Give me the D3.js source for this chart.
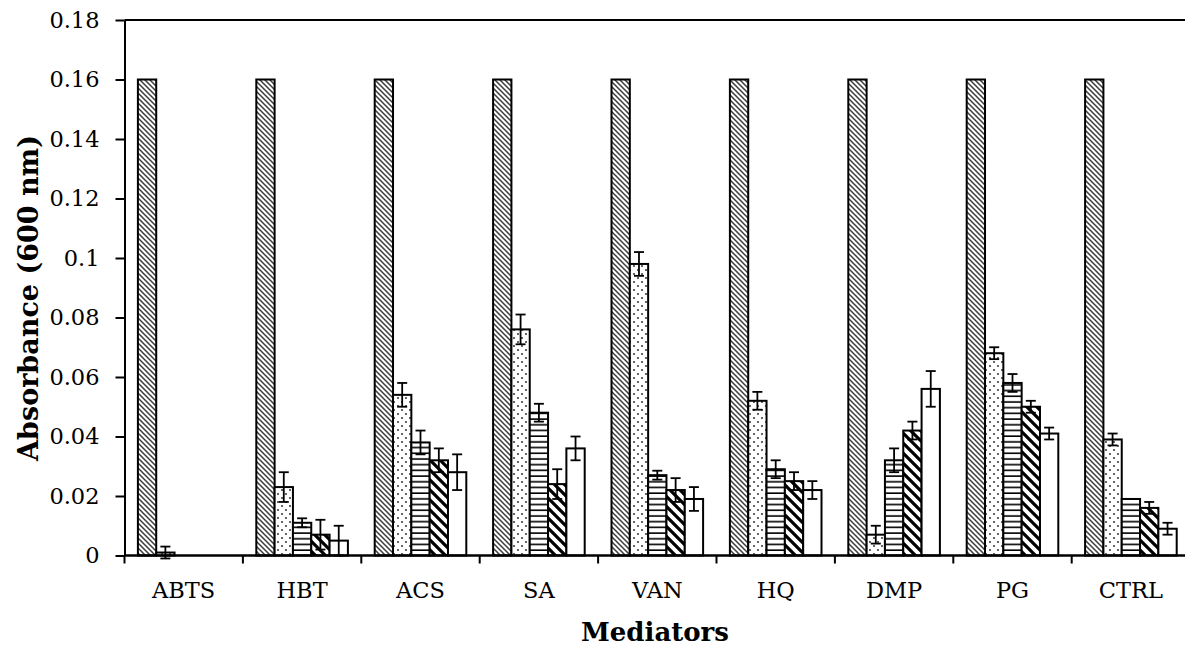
<!DOCTYPE html>
<html>
<head>
<meta charset="utf-8">
<script src="https://cdn.jsdelivr.net/npm/d3@7"></script>
<style>
  body { margin: 0; background: #fff; }
  svg { display: block; font-family: "DejaVu Serif", "Liberation Serif", serif; }
</style>
</head>
<body>
<div class="chart"></div>
<script>
// chart size and plot box
const w = 1185;
const h = 650;
const padL = 124.5;
const padT = 20;
const padB = 555.5;
const groupW = 118.4;

// categories and series
const mediators = ["ABTS", "HBT", "ACS", "SA", "VAN", "HQ", "DMP", "PG", "CTRL"];
const seriesIds = ["s1", "s2", "s3", "s4", "s5"];
const yTicks = [0, 0.02, 0.04, 0.06, 0.08, 0.1, 0.12, 0.14, 0.16, 0.18];

const s1 = [0.16, 0.16, 0.16, 0.16, 0.16, 0.16, 0.16, 0.16, 0.16];
const s2 = [0.001, 0.023, 0.054, 0.076, 0.098, 0.052, 0.007, 0.068, 0.039];
const s3 = [0, 0.011, 0.038, 0.048, 0.027, 0.029, 0.032, 0.058, 0.019];
const s4 = [0, 0.007, 0.032, 0.024, 0.022, 0.025, 0.042, 0.050, 0.016];
const s5 = [0, 0.005, 0.028, 0.036, 0.019, 0.022, 0.056, 0.041, 0.009];

const s1Err = [0, 0, 0, 0, 0, 0, 0, 0, 0];
const s2Err = [0.002, 0.005, 0.004, 0.005, 0.004, 0.003, 0.003, 0.002, 0.002];
const s3Err = [0, 0.0015, 0.004, 0.003, 0.0015, 0.003, 0.004, 0.003, 0];
const s4Err = [0, 0.005, 0.004, 0.005, 0.004, 0.003, 0.003, 0.002, 0.002];
const s5Err = [0, 0.005, 0.006, 0.004, 0.004, 0.003, 0.006, 0.002, 0.002];

const values = [s1, s2, s3, s4, s5];
const errors = [s1Err, s2Err, s3Err, s4Err, s5Err];

// flatten into rows for the bars
const rows = [];
mediators.forEach((m, i) => {
  seriesIds.forEach((s, j) => {
    rows.push({ m: m, s: s, v: values[j][i], e: errors[j][i] });
  });
});

const svg = d3.select(".chart").append("svg")
  .attr("width", w)
  .attr("height", h);

svg.append("rect").attr("width", w).attr("height", h).attr("fill", "#fff");

// fill patterns
const defs = svg.append("defs");

const p1 = defs.append("pattern").attr("id", "pat-s1")
  .attr("patternUnits", "userSpaceOnUse").attr("width", 5).attr("height", 5);
p1.append("rect").attr("width", 5).attr("height", 5).attr("fill", "#fff");
p1.append("path").attr("d", "M-1,-1L6,6M-1,4L1,6M4,-1L6,1")
  .attr("stroke", "#3c3c3c").attr("stroke-width", 1.5);

const p2 = defs.append("pattern").attr("id", "pat-s2")
  .attr("patternUnits", "userSpaceOnUse").attr("width", 8).attr("height", 8);
p2.append("rect").attr("width", 8).attr("height", 8).attr("fill", "#fff");
p2.append("circle").attr("cx", 2).attr("cy", 2).attr("r", 1).attr("fill", "#333");
p2.append("circle").attr("cx", 6).attr("cy", 6).attr("r", 1).attr("fill", "#333");

const p3 = defs.append("pattern").attr("id", "pat-s3")
  .attr("patternUnits", "userSpaceOnUse").attr("width", 6).attr("height", 5.7);
p3.append("rect").attr("width", 6).attr("height", 5.7).attr("fill", "#fff");
p3.append("path").attr("d", "M0,3L6,3").attr("stroke", "#000").attr("stroke-width", 1.6);

const p4 = defs.append("pattern").attr("id", "pat-s4")
  .attr("patternUnits", "userSpaceOnUse").attr("width", 10).attr("height", 10);
p4.append("rect").attr("width", 10).attr("height", 10).attr("fill", "#fff");
p4.append("path").attr("d", "M-2,-2L12,12M-2,8L2,12M8,-2L12,2")
  .attr("stroke", "#000").attr("stroke-width", 3.2);

const fills = { s1: "url(#pat-s1)", s2: "url(#pat-s2)", s3: "url(#pat-s3)", s4: "url(#pat-s4)", s5: "#fff" };

// scales
const x0 = d3.scaleBand()
  .domain(mediators)
  .range([padL, padL + groupW * mediators.length])
  .padding(0);

const x1 = d3.scaleBand()
  .domain(seriesIds)
  .range([13.4, groupW - 13.4])
  .padding(0);

const y = d3.scaleLinear()
  .domain([0, 0.18])
  .range([padB, padT]);

// top line at 0.18
svg.append("line")
  .attr("x1", padL).attr("x2", w)
  .attr("y1", y(0.18)).attr("y2", y(0.18))
  .attr("stroke", "#000").attr("stroke-width", 2);

// bars
const g = svg.append("g");
g.selectAll("rect.bar")
  .data(rows)
  .enter().append("rect")
  .attr("class", "bar")
  .attr("x", d => x0(d.m) + x1(d.s))
  .attr("y", d => y(d.v))
  .attr("width", x1.bandwidth())
  .attr("height", d => y(0) - y(d.v))
  .attr("fill", d => fills[d.s])
  .attr("stroke", "#000")
  .attr("stroke-width", 2);

// error bars
const errRows = rows.filter(d => d.e > 0);
const eg = g.selectAll("g.err").data(errRows).enter().append("g")
  .attr("class", "err")
  .attr("stroke", "#000")
  .attr("stroke-width", 1.8);
const cx = d => x0(d.m) + x1(d.s) + x1.bandwidth() / 2;
eg.append("line")
  .attr("x1", cx).attr("x2", cx)
  .attr("y1", d => y(d.v - d.e)).attr("y2", d => y(d.v + d.e));
eg.append("line")
  .attr("x1", d => cx(d) - 5).attr("x2", d => cx(d) + 5)
  .attr("y1", d => y(d.v + d.e)).attr("y2", d => y(d.v + d.e));
eg.append("line")
  .attr("x1", d => cx(d) - 5).attr("x2", d => cx(d) + 5)
  .attr("y1", d => y(d.v - d.e)).attr("y2", d => y(d.v - d.e));

// y axis
const yAxis = d3.axisLeft(y)
  .tickValues(yTicks)
  .tickFormat(d => d3.format("")(+d.toFixed(2)))
  .tickSize(9)
  .tickSizeOuter(0)
  .tickPadding(16);

const ya = svg.append("g")
  .attr("transform", "translate(" + padL + ",0)")
  .call(yAxis);
ya.selectAll("line").attr("stroke", "#000").attr("stroke-width", 2);
ya.select(".domain").attr("stroke", "#000").attr("stroke-width", 2);
ya.selectAll("text")
  .attr("fill", "#000")
  .style("font-size", "22.5px")
  .style("font-family", "'DejaVu Serif', serif");

// x axis: ticks at group boundaries
const xa = svg.append("g").attr("transform", "translate(0," + padB + ")");
xa.append("line")
  .attr("x1", padL).attr("x2", w)
  .attr("stroke", "#000").attr("stroke-width", 2.5);
xa.selectAll("line.tick")
  .data(mediators)
  .enter().append("line")
  .attr("class", "tick")
  .attr("x1", d => x0(d)).attr("x2", d => x0(d))
  .attr("y1", 0).attr("y2", 8)
  .attr("stroke", "#000").attr("stroke-width", 2);
xa.selectAll("text")
  .data(mediators)
  .enter().append("text")
  .attr("x", d => x0(d) + x0.bandwidth() / 2)
  .attr("y", 42)
  .attr("text-anchor", "middle")
  .style("font-size", "22.5px")
  .text(d => d);

// axis titles
svg.append("text")
  .attr("transform", "translate(38," + 298 + ") rotate(-90)")
  .attr("text-anchor", "middle")
  .style("font-size", "27px")
  .style("font-weight", "bold")
  .text("Absorbance (600 nm)");

svg.append("text")
  .attr("x", 655)
  .attr("y", 641)
  .attr("text-anchor", "middle")
  .style("font-size", "26px")
  .style("font-weight", "bold")
  .text("Mediators");
</script>
</body>
</html>
